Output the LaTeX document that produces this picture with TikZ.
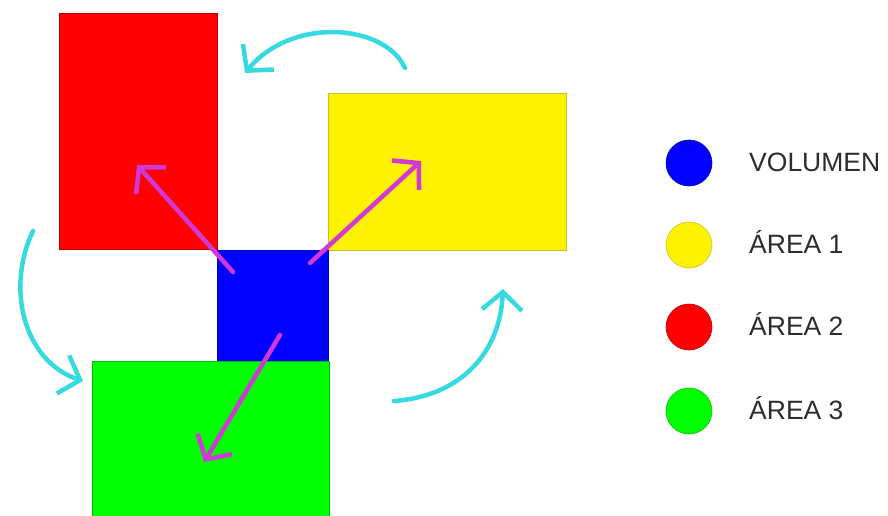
\documentclass[tikz,border=0pt]{standalone}
\usepackage{fontspec}
\setmainfont{Liberation Sans}
\usetikzlibrary{arrows.meta}
\definecolor{cyanarc}{RGB}{55,218,222}
\definecolor{magarr}{RGB}{210,55,215}
\definecolor{txtgray}{RGB}{45,45,45}
\begin{document}
\begin{tikzpicture}[x=1pt,y=-1pt,
  area/.style={draw=#1!75!black, line width=0.6pt, fill=#1, inner sep=0pt, anchor=north west},
  dot/.style={circle, draw=#1!75!black, line width=0.6pt, fill=#1, minimum size=46pt, inner sep=0pt},
  legtext/.style={anchor=base west, font=\fontsize{26.5}{30}\selectfont, text=txtgray, inner sep=0pt},
  turn/.style={draw=cyanarc, line width=4.5pt, line cap=round, -{Straight Barb[length=18pt,width=40pt,line width=4.5pt]}},
  push/.style={draw=magarr, line width=4.5pt, line cap=round, -{Straight Barb[length=18pt,width=40pt,line width=4.5pt]}}]
\fill[white] (0,0) rectangle (888,516);
\useasboundingbox (0,0) rectangle (888,516);
% areas
\node[area=red, minimum width=158pt, minimum height=236pt] (r2) at (59,13) {};
\node[area=yellow, minimum width=238pt, minimum height=157pt] (r1) at (328,93) {};
\node[area=blue, minimum width=111pt, minimum height=111pt] (vol) at (217,250) {};
\node[area=green, minimum width=237pt, minimum height=158pt] (r3) at (92,361) {};
% magenta arrows
\coordinate (m1s) at (233,272); \coordinate (m1e) at (137,165);
\coordinate (m2s) at (310,263); \coordinate (m2e) at (421,161);
\coordinate (m3s) at (280,335); \coordinate (m3e) at (204,462);
\draw[push] (m1s) -- (m1e);
\draw[push] (m2s) -- (m2e);
\draw[push] (m3s) -- (m3e);
% cyan arcs
\coordinate (c1s) at (405,68); \coordinate (c1e) at (245,73);
\coordinate (c2s) at (33,231); \coordinate (c2e) at (83,381);
\coordinate (c3s) at (394,401); \coordinate (c3e) at (503,289);
\draw[turn] (c1s) .. controls (385,24) and (292,16) .. (c1e);
\draw[turn] (c2s) .. controls (5,290) and (25,362) .. (c2e);
\draw[turn] (c3s) .. controls (462,396) and (500,352) .. (c3e);
% legend
\node[dot=blue] (lv) at (689,163) {};
\node[dot=yellow] (l1) at (689,245) {};
\node[dot=red] (l2) at (689,327) {};
\node[dot=green] (l3) at (689,411) {};
\node[legtext] (tv) at (749,171) {VOLUMEN};
\node[legtext] (t1) at (749,253) {ÁREA 1};
\node[legtext] (t2) at (749,335) {ÁREA 2};
\node[legtext] (t3) at (749,419) {ÁREA 3};
\end{tikzpicture}
\end{document}
